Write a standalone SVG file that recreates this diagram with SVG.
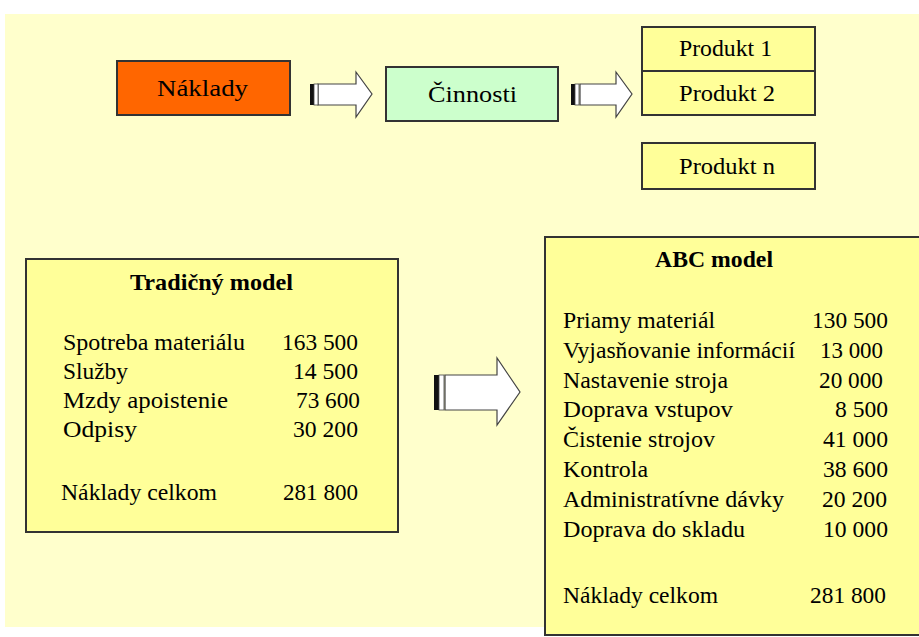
<svg xmlns="http://www.w3.org/2000/svg" width="919" height="637" viewBox="0 0 919 637">
<style>
text{font-family:"Liberation Serif","DejaVu Serif",serif;font-size:23px;fill:#000}
.box{stroke:#333;stroke-width:2}
.y{fill:#FFFF99}
.b{font-weight:bold}
.r{text-anchor:end}
.arr{fill:#fff;stroke:#444;stroke-width:1.2}
.bar{fill:#111}
.bw{fill:#fff;stroke:#444;stroke-width:0.8}
</style>
<rect x="0" y="0" width="919" height="637" fill="#fff"/>
<rect x="5" y="14" width="914" height="613" fill="#FFFFCC"/>
<g id="naklady"><rect class="box" x="117" y="61" width="173" height="54" fill="#FF6600"/><text x="157" y="96" textLength="91" lengthAdjust="spacingAndGlyphs">Náklady</text></g>
<g id="cinnosti"><rect class="box" x="386" y="67" width="172" height="54" fill="#CCFFCC"/><text x="428" y="102" textLength="89" lengthAdjust="spacingAndGlyphs">Činnosti</text></g>
<g id="produkt1"><rect class="box y" x="642" y="27" width="173" height="44"/><text x="679" y="56" textLength="93" lengthAdjust="spacingAndGlyphs">Produkt 1</text></g>
<g id="produkt2"><rect class="box y" x="642" y="71" width="173" height="44"/><text x="679" y="101" textLength="96" lengthAdjust="spacingAndGlyphs">Produkt 2</text></g>
<g id="produktn"><rect class="box y" x="642" y="143" width="173" height="46"/><text x="679" y="174" textLength="96" lengthAdjust="spacingAndGlyphs">Produkt n</text></g>
<g id="connectors">
<g id="a1"><path class="arr" d="M318 84 H356 V72 L372 94 L356 117 V105 H318 Z"/><rect class="bar" x="310" y="84" width="4" height="21"/><rect class="bw" x="314" y="84" width="4" height="21"/></g>
<g id="a2"><path class="arr" d="M580 84 H616 V72 L632 94 L616 117 V105 H580 Z"/><rect class="bar" x="571" y="84" width="4" height="21"/><rect class="bw" x="575" y="84" width="4" height="21"/></g>
<g id="a3"><path class="arr" d="M445 375 H497 V358 L520 392 L497 425 V410 H445 Z"/><rect class="bar" x="434" y="375" width="5" height="35"/><rect class="bw" x="439" y="375" width="5" height="35"/></g>
</g>
<g id="tradicny">
<rect class="box y" x="26" y="259" width="372" height="273"/>
<text class="b" x="130" y="290" textLength="163" lengthAdjust="spacingAndGlyphs">Tradičný model</text>
<text x="63" y="350" textLength="182" lengthAdjust="spacingAndGlyphs">Spotreba materiálu</text><text x="282" y="350" textLength="76" lengthAdjust="spacingAndGlyphs">163 500</text>
<text x="63" y="379" textLength="65" lengthAdjust="spacingAndGlyphs">Služby</text><text x="293" y="379" textLength="65" lengthAdjust="spacingAndGlyphs">14 500</text>
<text x="63" y="408" textLength="165" lengthAdjust="spacingAndGlyphs">Mzdy apoistenie</text><text x="296" y="408" textLength="64" lengthAdjust="spacingAndGlyphs">73 600</text>
<text x="63" y="437" textLength="74" lengthAdjust="spacingAndGlyphs">Odpisy</text><text x="293" y="437" textLength="65" lengthAdjust="spacingAndGlyphs">30 200</text>
<text x="61" y="500" textLength="156" lengthAdjust="spacingAndGlyphs">Náklady celkom</text><text x="283" y="500" textLength="75" lengthAdjust="spacingAndGlyphs">281 800</text>
</g>
<g id="abc">
<rect class="box y" x="545" y="237" width="380" height="398"/>
<text class="b" x="655" y="267" textLength="118" lengthAdjust="spacingAndGlyphs">ABC model</text>
<text x="563" y="328" textLength="152" lengthAdjust="spacingAndGlyphs">Priamy materiál</text><text x="812" y="328" textLength="76" lengthAdjust="spacingAndGlyphs">130 500</text>
<text x="563" y="358" textLength="232" lengthAdjust="spacingAndGlyphs">Vyjasňovanie informácií</text><text x="820" y="358" textLength="63" lengthAdjust="spacingAndGlyphs">13 000</text>
<text x="563" y="388" textLength="165" lengthAdjust="spacingAndGlyphs">Nastavenie stroja</text><text x="819" y="388" textLength="64" lengthAdjust="spacingAndGlyphs">20 000</text>
<text x="563" y="417" textLength="170" lengthAdjust="spacingAndGlyphs">Doprava vstupov</text><text x="835" y="417" textLength="53" lengthAdjust="spacingAndGlyphs">8 500</text>
<text x="563" y="447" textLength="152" lengthAdjust="spacingAndGlyphs">Čistenie strojov</text><text x="823" y="447" textLength="65" lengthAdjust="spacingAndGlyphs">41 000</text>
<text x="563" y="477" textLength="85" lengthAdjust="spacingAndGlyphs">Kontrola</text><text x="823" y="477" textLength="65" lengthAdjust="spacingAndGlyphs">38 600</text>
<text x="563" y="507" textLength="221" lengthAdjust="spacingAndGlyphs">Administratívne dávky</text><text x="822" y="507" textLength="65" lengthAdjust="spacingAndGlyphs">20 200</text>
<text x="563" y="537" textLength="182" lengthAdjust="spacingAndGlyphs">Doprava do skladu</text><text x="823" y="537" textLength="65" lengthAdjust="spacingAndGlyphs">10 000</text>
<text x="563" y="603" textLength="155" lengthAdjust="spacingAndGlyphs">Náklady celkom</text><text x="810" y="603" textLength="76" lengthAdjust="spacingAndGlyphs">281 800</text>
</g>
</svg>
